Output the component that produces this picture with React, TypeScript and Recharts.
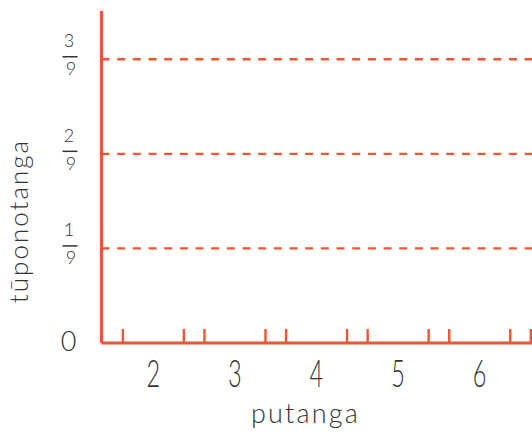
import React from "react";
import { BarChart, Bar, XAxis, YAxis, CartesianGrid } from "recharts";

const categories = ["2", "3", "4", "5", "6", "7"];
const probabilities = [0, 0, 0, 0, 0, 0];
const yTicks = [0, 1 / 9, 2 / 9, 3 / 9];
const yNumerators = ["0", "1", "2", "3"];
const yDenominators = ["", "9", "9", "9"];
const yMax = 3.51 / 9;
const xLabel = "putanga";
const yLabel = "tūponotanga";

const ORANGE = "#EE5532";
const INK = "#333333";
const FONT = "Lato, 'Open Sans', sans-serif";
const VIEW_W = 532;

const data = categories.map((c, i) => ({ outcome: c, p: probabilities[i] }));

const XTick = (props: any) => {
  const { x, y, payload } = props;
  if (x + 8 > VIEW_W) return null;
  return (
    <g transform={`translate(${x},${y + 44})`}>
      <text
        textAnchor="middle"
        transform="scale(0.62,1)"
        fontSize={38}
        fontWeight={300}
        fontFamily={FONT}
        fill={INK}
      >
        {payload.value}
      </text>
    </g>
  );
};

const YTick = (props: any) => {
  const { x, y, index } = props;
  const cx = x - 31.5;
  const num = yNumerators[index];
  const den = yDenominators[index];
  if (!den) {
    return (
      <text
        x={cx - 1.5}
        y={y + 8}
        textAnchor="middle"
        fontSize={27}
        fontWeight={300}
        fontFamily={FONT}
        fill={INK}
      >
        {num}
      </text>
    );
  }
  return (
    <g>
      <text x={cx - 1} y={y - 12} textAnchor="middle" fontSize={18} fontWeight={300} fontFamily={FONT} fill={INK}>
        {num}
      </text>
      <line x1={cx - 7.5} x2={cx + 7.5} y1={y - 2.5} y2={y - 2.5} stroke={INK} strokeWidth={1.5} />
      <text x={cx + 1} y={y + 16} textAnchor="middle" fontSize={18} fontWeight={300} fontFamily={FONT} fill={INK}>
        {den}
      </text>
    </g>
  );
};

const TickPair = (props: any) => {
  const { x, y, width, height } = props;
  const base = y + height;
  return (
    <g>
      <line x1={x} x2={x} y1={base} y2={base - 14} stroke={ORANGE} strokeWidth={2.4} />
      <line x1={x + width} x2={x + width} y1={base} y2={base - 14} stroke={ORANGE} strokeWidth={2.4} />
    </g>
  );
};

const XLabel = (props: any) => {
  const { viewBox } = props;
  return (
    <text
      x={viewBox.x + 204}
      y={viewBox.y + 80}
      textAnchor="middle"
      fontSize={27}
      fontWeight={300}
      letterSpacing={2.2}
      fontFamily={FONT}
      fill={INK}
    >
      {xLabel}
    </text>
  );
};

const YLabel = (props: any) => {
  const { viewBox } = props;
  const cx = viewBox.x + 28;
  const cy = 221;
  return (
    <text
      x={cx}
      y={cy}
      textAnchor="middle"
      transform={`rotate(-90, ${cx}, ${cy})`}
      fontSize={26}
      fontWeight={300}
      letterSpacing={2}
      fontFamily={FONT}
      fill={INK}
    >
      {yLabel}
    </text>
  );
};

export default function App() {
  return (
    <div
      style={{
        position: "fixed",
        left: 0,
        top: 0,
        width: VIEW_W,
        height: 439,
        overflow: "hidden",
        background: "#ffffff",
      }}
    >
      <BarChart
        width={602}
        height={439}
        data={data}
        margin={{ top: 11, right: 0, left: 0, bottom: 0 }}
        barCategoryGap={10.4}
      >
        <CartesianGrid
          vertical={false}
          horizontalValues={yTicks.slice(1)}
          stroke={ORANGE}
          strokeWidth={2.3}
          strokeDasharray="8 7.67"
        />
        <XAxis
          dataKey="outcome"
          type="category"
          interval={0}
          height={96}
          padding={{ left: 11, right: 0 }}
          axisLine={{ stroke: ORANGE, strokeWidth: 3 }}
          tickLine={false}
          tickSize={0}
          tickMargin={0}
          tick={<XTick />}
          label={<XLabel />}
        />
        <YAxis
          type="number"
          domain={[0, yMax]}
          ticks={yTicks}
          width={101.5}
          axisLine={{ stroke: ORANGE, strokeWidth: 3 }}
          tickLine={false}
          tickSize={0}
          tickMargin={0}
          tick={<YTick />}
          label={<YLabel />}
        />
        <Bar dataKey="p" isAnimationActive={false} shape={<TickPair />} />
      </BarChart>
    </div>
  );
}
